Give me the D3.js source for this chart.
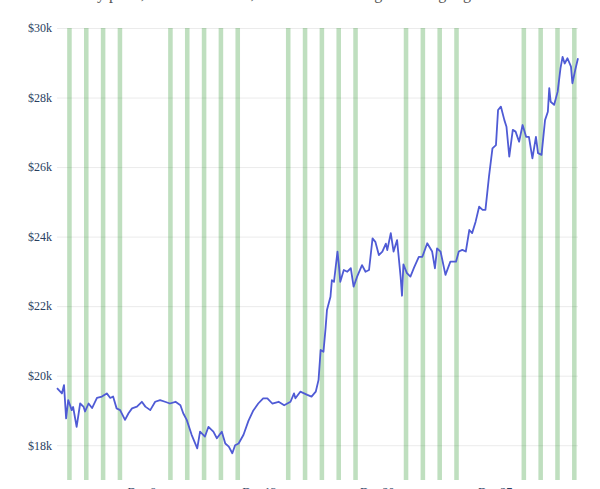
<!DOCTYPE html>
<html>
<head>
<meta charset="utf-8">
<script src="https://cdn.jsdelivr.net/npm/d3@7"></script>
<style>
  html, body { margin: 0; padding: 0; background: #fff; }
  svg { display: block; }
  svg text { font-family: "Liberation Serif", "DejaVu Serif", serif; }
</style>
</head>
<body>
<svg id="chart" width="600" height="489"></svg>
<script>
// ---- data ----
const title = "Bitcoin hourly price, December 2020, with NYSE trading hours highlighted";

const times = [
  "2020-12-01T00:00Z","2020-12-01T07:00Z","2020-12-01T10:00Z","2020-12-01T13:00Z","2020-12-01T16:00Z","2020-12-01T21:00Z","2020-12-01T23:00Z",
  "2020-12-02T04:00Z","2020-12-02T09:00Z","2020-12-02T14:00Z","2020-12-02T16:00Z","2020-12-02T21:00Z",
  "2020-12-03T02:00Z","2020-12-03T09:00Z","2020-12-03T16:00Z","2020-12-03T23:00Z",
  "2020-12-04T04:00Z","2020-12-04T08:00Z","2020-12-04T13:00Z","2020-12-04T18:00Z",
  "2020-12-05T01:00Z","2020-12-05T06:00Z","2020-12-05T11:00Z","2020-12-05T18:00Z",
  "2020-12-06T01:00Z","2020-12-06T06:00Z","2020-12-06T13:00Z","2020-12-06T20:00Z",
  "2020-12-07T03:00Z","2020-12-07T10:00Z","2020-12-07T17:00Z",
  "2020-12-08T01:00Z","2020-12-08T08:00Z","2020-12-08T12:00Z","2020-12-08T17:00Z",
  "2020-12-09T00:00Z","2020-12-09T08:00Z","2020-12-09T12:00Z","2020-12-09T19:00Z",
  "2020-12-10T00:00Z","2020-12-10T07:00Z","2020-12-10T12:00Z","2020-12-10T19:00Z",
  "2020-12-11T00:00Z","2020-12-11T05:00Z","2020-12-11T10:00Z","2020-12-11T14:00Z","2020-12-11T19:00Z",
  "2020-12-12T02:00Z","2020-12-12T09:00Z","2020-12-12T16:00Z","2020-12-12T23:00Z",
  "2020-12-13T06:00Z","2020-12-13T12:00Z","2020-12-13T19:00Z",
  "2020-12-14T04:00Z","2020-12-14T12:00Z","2020-12-14T21:00Z",
  "2020-12-15T02:00Z","2020-12-15T04:00Z","2020-12-15T11:00Z","2020-12-15T21:00Z",
  "2020-12-16T03:00Z","2020-12-16T09:00Z","2020-12-16T13:00Z","2020-12-16T16:00Z","2020-12-16T20:00Z","2020-12-16T23:00Z",
  "2020-12-17T01:00Z","2020-12-17T06:00Z","2020-12-17T08:00Z","2020-12-17T11:00Z","2020-12-17T16:00Z","2020-12-17T18:00Z","2020-12-17T20:00Z",
  "2020-12-18T01:00Z","2020-12-18T06:00Z","2020-12-18T11:00Z","2020-12-18T15:00Z","2020-12-18T20:00Z",
  "2020-12-19T03:00Z","2020-12-19T08:00Z","2020-12-19T13:00Z","2020-12-19T18:00Z","2020-12-19T22:00Z",
  "2020-12-20T03:00Z","2020-12-20T08:00Z","2020-12-20T13:00Z","2020-12-20T15:00Z","2020-12-20T20:00Z",
  "2020-12-21T00:00Z","2020-12-21T05:00Z","2020-12-21T10:00Z","2020-12-21T12:00Z","2020-12-21T14:00Z","2020-12-21T19:00Z",
  "2020-12-22T00:00Z","2020-12-22T05:00Z","2020-12-22T12:00Z","2020-12-22T17:00Z",
  "2020-12-23T00:00Z","2020-12-23T07:00Z","2020-12-23T11:00Z","2020-12-23T14:00Z","2020-12-23T19:00Z",
  "2020-12-24T02:00Z","2020-12-24T09:00Z","2020-12-24T17:00Z","2020-12-24T21:00Z",
  "2020-12-25T02:00Z","2020-12-25T07:00Z","2020-12-25T12:00Z","2020-12-25T16:00Z","2020-12-25T21:00Z",
  "2020-12-26T02:00Z","2020-12-26T07:00Z","2020-12-26T11:00Z","2020-12-26T16:00Z","2020-12-26T21:00Z",
  "2020-12-27T02:00Z","2020-12-27T05:00Z","2020-12-27T09:00Z","2020-12-27T14:00Z","2020-12-27T17:00Z","2020-12-27T21:00Z",
  "2020-12-28T02:00Z","2020-12-28T06:00Z","2020-12-28T11:00Z","2020-12-28T16:00Z","2020-12-28T21:00Z",
  "2020-12-29T01:00Z","2020-12-29T06:00Z","2020-12-29T11:00Z","2020-12-29T14:00Z","2020-12-29T19:00Z",
  "2020-12-30T00:00Z","2020-12-30T04:00Z","2020-12-30T06:00Z","2020-12-30T08:00Z","2020-12-30T13:00Z","2020-12-30T18:00Z","2020-12-30T22:00Z",
  "2020-12-31T01:00Z","2020-12-31T04:00Z","2020-12-31T08:00Z","2020-12-31T13:00Z","2020-12-31T15:00Z","2020-12-31T19:00Z","2020-12-31T23:00Z"
];

const prices = [
  19640,19490,19730,18770,19300,19010,19100,
  18530,19200,19100,18970,19200,
  19070,19360,19400,19490,
  19360,19400,19060,19010,
  18730,18920,19060,19110,
  19250,19110,19010,19250,
  19300,19250,19200,
  19250,19150,18920,18730,
  18300,17910,18390,18250,
  18530,18390,18200,18390,
  18050,17960,17770,18000,18050,
  18300,18700,19000,19200,
  19350,19350,19200,
  19250,19150,19250,
  19490,19350,19540,19450,
  19400,19540,19880,20740,20690,21360,
  21890,22270,22750,22700,23570,23180,22700,
  23040,22990,23090,22560,22850,
  23180,22990,23040,23950,23850,
  23470,23570,23800,23610,24100,
  23570,23900,22850,22300,23200,22950,
  22850,23100,23420,23420,
  23810,23570,23090,23660,23570,
  22900,23280,23280,23570,
  23620,23570,24190,24100,24430,
  24860,24770,24770,25720,26540,
  26630,27640,27740,27350,27160,26300,
  27070,27020,26730,27210,26870,
  26870,26250,26870,26400,26350,
  27350,27590,28270,27880,27790,28170,28840,
  29170,28980,29130,28890,28410,28790,29130
];

// NYSE trading days in December 2020 (weekdays, market closed Dec 25)
const tradingDays = [
  "2020-12-01","2020-12-02","2020-12-03","2020-12-04",
  "2020-12-07","2020-12-08","2020-12-09","2020-12-10","2020-12-11",
  "2020-12-14","2020-12-15","2020-12-16","2020-12-17","2020-12-18",
  "2020-12-21","2020-12-22","2020-12-23","2020-12-24",
  "2020-12-28","2020-12-29","2020-12-30","2020-12-31"
];
const sessionOpen = "14:30";   // UTC
const sessionClose = "21:00";  // UTC

const yTicks = [18000, 20000, 22000, 24000, 26000, 28000, 30000];
const xTicks = ["2020-12-06T00:00Z","2020-12-13T00:00Z","2020-12-20T00:00Z","2020-12-27T00:00Z"];
const xDomain = ["2020-12-01T00:00Z","2020-12-31T23:00Z"];
const yDomain = [17000, 30000];

// ---- chart ----
const svg = d3.select("#chart");
const W = 600, H = 489;
const margin = {left: 57, right: 22, top: 28, bottom: 9};
const x = d3.scaleUtc().domain(xDomain.map(d => new Date(d))).range([margin.left, W - margin.right]);
const y = d3.scaleLinear().domain(yDomain).range([H - margin.bottom, margin.top]);

svg.append("rect").attr("width", W).attr("height", H).attr("fill", "#fff");

// title (clipped at the top edge as in the reference)
svg.append("text")
  .attr("x", 12).attr("y", -1)
  .attr("font-size", 16).attr("fill", "#555")
  .text(title);

// horizontal grid
const yAxis = d3.axisLeft(y).tickValues(yTicks)
  .tickSize(-(W - margin.left - margin.right))
  .tickFormat(d => "$" + d3.format("d")(d / 1000) + "k");
const gy = svg.append("g").attr("transform", `translate(${margin.left},0)`).call(yAxis)
  .attr("font-family", null);
gy.select(".domain").remove();
gy.selectAll(".tick line").attr("stroke", "#ebebeb").attr("stroke-width", 1);
gy.selectAll(".tick text")
  .attr("x", -5)
  .attr("font-size", 12).attr("fill", "#2a3f5f");

// trading-hours bands
const bands = tradingDays.map(d => ({
  x0: new Date(`${d}T${sessionOpen}Z`),
  x1: new Date(`${d}T${sessionClose}Z`)
}));
svg.append("g").selectAll("rect").data(bands).join("rect")
  .attr("x", d => x(d.x0))
  .attr("width", d => x(d.x1) - x(d.x0))
  .attr("y", margin.top)
  .attr("height", H - margin.bottom - margin.top)
  .attr("fill", "green").attr("fill-opacity", 0.25);

// price line
const data = times.map((t, i) => ({t: new Date(t), v: prices[i]}));
svg.append("path").datum(data)
  .attr("fill", "none")
  .attr("stroke", "#4f5bd5")
  .attr("stroke-width", 1.8)
  .attr("stroke-linejoin", "round")
  .attr("d", d3.line().x(d => x(d.t)).y(d => y(d.v)));

// x axis labels (cut off by the bottom edge as in the reference)
const xAxis = d3.axisBottom(x).tickValues(xTicks.map(d => new Date(d)))
  .tickSize(0).tickFormat(d3.utcFormat("%b %-d"));
const gx = svg.append("g").attr("transform", `translate(0,${H - margin.bottom})`).call(xAxis)
  .attr("font-family", null);
gx.select(".domain").remove();
gx.selectAll(".tick text")
  .attr("dy", "1.05em")
  .attr("font-size", 12).attr("fill", "#2a3f5f");
</script>
</body>
</html>
